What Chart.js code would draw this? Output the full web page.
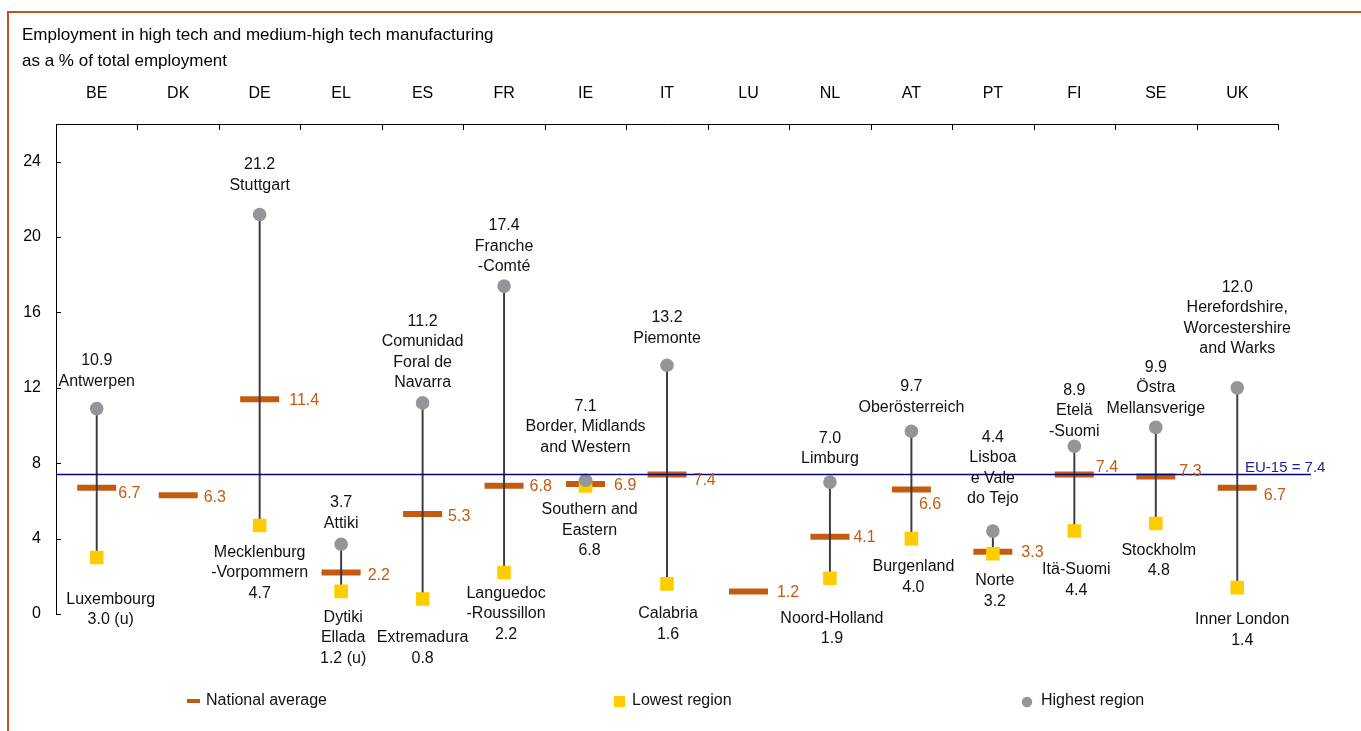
<!DOCTYPE html>
<html>
<head>
<meta charset="utf-8">
<title>Employment in high tech and medium-high tech manufacturing</title>
<script src="https://cdn.jsdelivr.net/npm/chart.js@4.4.1/dist/chart.umd.min.js"></script>
<style>
  html, body { margin: 0; padding: 0; background: #fff; overflow: hidden; }
  #frame { position: absolute; left: 7px; top: 11px; width: 1400px; height: 800px; border: 2px solid #c0531f; }
  #wrap { position: absolute; left: 0; top: 0; width: 1361px; height: 731px; }
</style>
</head>
<body>
<div id="frame"></div>
<div id="wrap"><canvas id="regionChart"></canvas></div>
<script>
// data
const countries = ["BE", "DK", "DE", "EL", "ES", "FR", "IE", "IT", "LU", "NL", "AT", "PT", "FI", "SE", "UK"];
const nationalAvg = [6.7, 6.3, 11.4, 2.2, 5.3, 6.8, 6.9, 7.4, 1.2, 4.1, 6.6, 3.3, 7.4, 7.3, 6.7];
const highestValues = [10.9, null, 21.2, 3.7, 11.2, 17.4, 7.1, 13.2, null, 7.0, 9.7, 4.4, 8.9, 9.9, 12.0];
const lowestValues = [3.0, null, 4.7, 1.2, 0.8, 2.2, 6.8, 1.6, null, 1.9, 4.0, 3.2, 4.4, 4.8, 1.4];
const lowestUnreliable = [true, false, false, true, false, false, false, false, false, false, false, false, false, false, false];
const highestNames = [
  ["Antwerpen"], null, ["Stuttgart"], ["Attiki"], ["Comunidad", "Foral de", "Navarra"],
  ["Franche", "-Comté"], ["Border, Midlands", "and Western"], ["Piemonte"], null, ["Limburg"],
  ["Oberösterreich"], ["Lisboa", "e Vale", "do Tejo"], ["Etelä", "-Suomi"], ["Östra", "Mellansverige"],
  ["Herefordshire,", "Worcestershire", "and Warks"]
];
const lowestNames = [
  ["Luxembourg"], null, ["Mecklenburg", "-Vorpommern"], ["Dytiki", "Ellada"], ["Extremadura"],
  ["Languedoc", "-Roussillon"], ["Southern and", "Eastern"], ["Calabria"], null, ["Noord-Holland"],
  ["Burgenland"], ["Norte"], ["Itä-Suomi"], ["Stockholm"], ["Inner London"]
];
const euAverage = 7.4;
const yTicks = [0, 4, 8, 12, 16, 20, 24];

// label layout (pixels), kept apart from the data
const highGap = [27, 0, 29, 21, 20, 19, 33, 27, 0, 23, 24, 32, 15, 19, 39];
const lowGap = [42, 0, 27, 26, 39, 21, 24, 30, 0, 40, 28, 27, 39, 27, 32];
const lowShift = [14, 0, 0, 2, 0, 2, 4, 1, 0, 2, 2, 2, 2, 3, 5];
const avgLabelDx = [2, 6, 10, 7, 6, 6, 9, 7, 9, 4, -12, 9, 2, 4, 7];
const avgLabelDy = [6, 2, 1, 3, 2, 1, 2, 6, 1, 1, 15, 1, -7, -5, 8];

const ORANGE = "#c55a11";
const YELLOW = "#ffcc00";
const GREY = "#939598";
const NAVY = "#000080";
const FONT = '"Liberation Sans", Arial, sans-serif';

// stems between lowest and highest region
const ranges = highestValues.map((h, i) => (h === null ? null : [lowestValues[i], h]));

const decorPlugin = {
  id: "decor",
  afterDraw(chart) {
    const ctx = chart.ctx;
    const x = chart.scales.x;
    const y = chart.scales.y;
    const area = chart.chartArea;
    ctx.save();

    // title
    ctx.fillStyle = "#000";
    ctx.font = "17px " + FONT;
    ctx.textAlign = "left";
    ctx.textBaseline = "middle";
    ctx.fillText("Employment in high tech and medium-high tech manufacturing", 22, 35);
    ctx.fillText("as a % of total employment", 22, 61);

    // inward tick marks
    ctx.strokeStyle = "#000";
    ctx.lineWidth = 1;
    ctx.beginPath();
    yTicks.forEach(v => {
      const py = Math.round(y.getPixelForValue(v)) + 0.5;
      ctx.moveTo(area.left, py);
      ctx.lineTo(area.left + 5, py);
    });
    for (let i = 0; i <= countries.length; i++) {
      const px = Math.round(x.getPixelForValue(i - 0.5)) + 0.5;
      ctx.moveTo(px, area.top);
      ctx.lineTo(px, area.top + 6);
    }
    ctx.stroke();

    // EU-15 line
    const ey = y.getPixelForValue(euAverage);
    ctx.strokeStyle = NAVY;
    ctx.lineWidth = 1.5;
    ctx.beginPath();
    ctx.moveTo(area.left, ey);
    ctx.lineTo(area.right + 33, ey);
    ctx.stroke();
    ctx.fillStyle = "#1f1f8f";
    ctx.font = "15px " + FONT;
    ctx.fillText("EU-15 = 7.4", 1245, ey - 7);

    // region labels
    const hiMeta = chart.getDatasetMeta(0);
    const loMeta = chart.getDatasetMeta(1);
    const avgMeta = chart.getDatasetMeta(3);
    const lh = 20.5;
    ctx.font = "16px " + FONT;
    ctx.textAlign = "center";
    ctx.fillStyle = "#111";
    countries.forEach((c, i) => {
      if (highestValues[i] !== null) {
        const p = hiMeta.data[i];
        const lines = [highestValues[i].toFixed(1)].concat(highestNames[i]);
        lines.forEach((t, k) => {
          ctx.fillText(t, p.x, p.y - highGap[i] - (lines.length - 1 - k) * lh);
        });
      }
      if (lowestValues[i] !== null) {
        const p = loMeta.data[i];
        const val = lowestValues[i].toFixed(1) + (lowestUnreliable[i] ? " (u)" : "");
        const lines = lowestNames[i].concat([val]);
        lines.forEach((t, k) => {
          ctx.fillText(t, p.x + lowShift[i], p.y + lowGap[i] + k * lh);
        });
      }
    });

    // national average labels
    ctx.fillStyle = ORANGE;
    ctx.textAlign = "left";
    avgMeta.data.forEach((p, i) => {
      ctx.fillText(nationalAvg[i].toFixed(1), p.x + 19.5 + avgLabelDx[i], p.y + avgLabelDy[i]);
    });

    // legend
    const ly = 701;
    ctx.fillStyle = "#111";
    ctx.font = "16px " + FONT;
    ctx.strokeStyle = ORANGE;
    ctx.lineWidth = 4;
    ctx.beginPath();
    ctx.moveTo(187, ly);
    ctx.lineTo(200, ly);
    ctx.stroke();
    ctx.fillText("National average", 206, ly);
    ctx.fillStyle = YELLOW;
    ctx.fillRect(614, ly - 5, 11, 11);
    ctx.fillStyle = "#111";
    ctx.fillText("Lowest region", 632, ly);
    ctx.fillStyle = GREY;
    ctx.beginPath();
    ctx.arc(1027, ly + 1, 5.2, 0, Math.PI * 2);
    ctx.fill();
    ctx.fillStyle = "#111";
    ctx.fillText("Highest region", 1041, ly);

    ctx.restore();
  }
};

const regionChart = new Chart(document.getElementById("regionChart"), {
  type: "bar",
  data: {
    labels: countries,
    datasets: [
      {
        type: "line",
        label: "Highest region",
        data: highestValues,
        showLine: false,
        pointStyle: "circle",
        pointRadius: 6.8,
        pointBackgroundColor: GREY,
        pointBorderWidth: 0,
        order: 1
      },
      {
        type: "line",
        label: "Lowest region",
        data: lowestValues,
        showLine: false,
        pointStyle: "rect",
        pointRadius: 9.6,
        pointBackgroundColor: YELLOW,
        pointBorderWidth: 0,
        order: 2
      },
      {
        type: "bar",
        label: "Range",
        data: ranges,
        backgroundColor: "#3c3c3c",
        barThickness: 1.3,
        order: 3
      },
      {
        type: "line",
        label: "National average",
        data: nationalAvg,
        showLine: false,
        pointStyle: "line",
        pointRadius: 19.5,
        pointBorderColor: ORANGE,
        pointBorderWidth: 6,
        order: 4
      }
    ]
  },
  options: {
    responsive: true,
    maintainAspectRatio: false,
    animation: false,
    events: [],
    layout: { padding: { top: 0, left: 0, right: 83, bottom: 117 } },
    plugins: {
      legend: { display: false },
      tooltip: { enabled: false }
    },
    scales: {
      x: {
        position: "top",
        offset: true,
        grid: { display: false, drawTicks: false },
        border: { display: true, color: "#000", width: 1 },
        ticks: { color: "#000", padding: 21, font: { family: FONT, size: 16 } },
        afterFit(scale) { scale.height = 124; }
      },
      y: {
        min: 0,
        max: 26,
        grid: { display: false, drawTicks: false },
        border: { display: true, color: "#000", width: 1 },
        ticks: { stepSize: 4, padding: 15, color: "#000", font: { family: FONT, size: 16 } },
        afterBuildTicks(scale) {
          scale.ticks = yTicks.map(v => ({ value: v }));
        },
        afterFit(scale) { scale.width = 56; }
      }
    }
  },
  plugins: [decorPlugin]
});
</script>
</body>
</html>
